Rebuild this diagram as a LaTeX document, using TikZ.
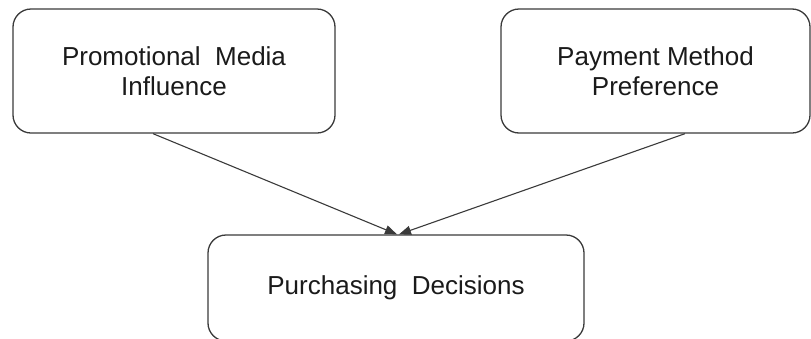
\documentclass[tikz,border=0pt]{standalone}
\usepackage{fontspec}
\setmainfont{Liberation Sans}
\usetikzlibrary{arrows.meta}
\definecolor{edgegray}{HTML}{3A3A3A}
\definecolor{textdark}{HTML}{1A1A1A}
\tikzset{
  factor/.style={draw=edgegray, line width=1.3pt, rounded corners=18pt,
    align=center, text=textdark, inner sep=0pt,
    font=\fontsize{26}{30}\selectfont},
  link/.style={draw=edgegray, line width=1.1pt,
    -{Triangle[length=12pt,width=9pt]}}
}
\begin{document}
\begin{tikzpicture}[x=1pt,y=-1pt]
  \useasboundingbox (0,0) rectangle (811,338);
  \clip (0,0) rectangle (811,338);
  \node[factor, minimum width=322pt, minimum height=124pt] (media) at (174,71)
    {Promotional\ \ Media\\Influence};
  \node[factor, minimum width=309pt, minimum height=124pt] (pay) at (655.5,71)
    {Payment Method\\Preference};
  \node[factor, minimum width=376pt, minimum height=106pt] (buy) at (396,288)
    {Purchasing\ \ Decisions};
  \draw[link] ([xshift=-21pt]media.south) -- ([xshift=1pt]buy.north);
  \draw[link] ([xshift=29.5pt]pay.south) -- ([xshift=3pt]buy.north);
\end{tikzpicture}
\end{document}
